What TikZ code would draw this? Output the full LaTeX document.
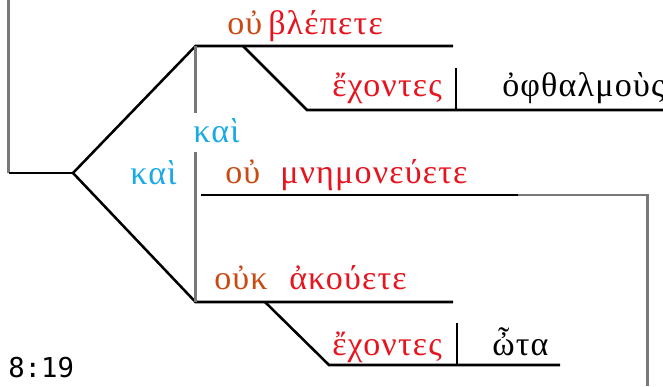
\documentclass[tikz,border=0pt]{standalone}
\usepackage{fontspec}
\setmainfont{Liberation Serif}[LetterSpace=3.5]
\newfontfamily\monofont{DejaVu Sans Mono}
\definecolor{neg}{RGB}{200,75,20}
\definecolor{verb}{RGB}{230,20,30}
\definecolor{conj}{RGB}{25,170,230}
\definecolor{gline}{RGB}{120,120,120}
\begin{document}
\begin{tikzpicture}[x=0.75pt,y=-0.75pt,
  bl/.style={black,line width=1.9pt},
  gl/.style={gline,line width=1.9pt},
  gk/.style={font=\fontsize{25.5}{28}\selectfont,inner sep=0pt,anchor=base west},
  ref/.style={font=\monofont\fontsize{20.5}{24}\selectfont,inner sep=0pt,anchor=base west}]
\useasboundingbox (0,0) rectangle (663,386);
% coordinates
\coordinate (g0) at (8.5,0);
\coordinate (g1) at (8.5,173);
\coordinate (j) at (73,173);
\coordinate (t0) at (195.5,46);
\coordinate (t1) at (453,46);
\coordinate (c0) at (195.5,113);
\coordinate (c1) at (195.5,152);
\coordinate (d0) at (243,46);
\coordinate (d1) at (307,110);
\coordinate (d2) at (663,110);
\coordinate (v0) at (456,68);
\coordinate (v1) at (456,110);
\coordinate (b0) at (195.5,302);
\coordinate (b1) at (453,302);
\coordinate (e0) at (265,302);
\coordinate (e1) at (329,365);
\coordinate (e2) at (560,365);
\coordinate (w0) at (457,323);
\coordinate (w1) at (457,365);
\coordinate (m0) at (201,195);
\coordinate (m1) at (518,195);
\coordinate (m2) at (647.5,195);
\coordinate (m3) at (647.5,386);
% lines
\draw[gl] (g0) -- (g1);
\draw[bl] (g1) -- (j);
\draw[bl] (j) -- (t0) -- (t1);
\draw[bl] (j) -- (b0) -- (b1);
\draw[gl] (t0) -- (c0);
\draw[gl] (c1) -- (b0);
\draw[bl] (d0) -- (d1) -- (d2);
\draw[bl] (v0) -- (v1);
\draw[bl] (e0) -- (e1) -- (e2);
\draw[bl] (w0) -- (w1);
\draw[bl] (m0) -- (m1);
\draw[gl] (m1) -- (m2) -- (m3);
% texts
\node[gk,text=neg] (n1) at (227,34) {οὐ};
\node[gk,text=verb] (v1t) at (268,34) {βλέπετε};
\node[gk,text=verb] (p1) at (332,96) {ἔχοντες};
\node[gk] (o1) at (502,96) {ὀφθαλμοὺς};
\node[gk,text=conj] (k1) at (193,142) {καὶ};
\node[gk,text=conj] (k2) at (130,184) {καὶ};
\node[gk,text=neg] (n2) at (225,183) {οὐ};
\node[gk,text=verb] (v2) at (280,183) {μνημονεύετε};
\node[gk,text=neg] (n3) at (214,289) {οὐκ};
\node[gk,text=verb] (v3) at (289,289) {ἀκούετε};
\node[gk,text=verb] (p2) at (332,355) {ἔχοντες};
\node[gk] (o2) at (492,355) {ὦτα};
\node[ref] (r) at (8,377) {8:19};
\end{tikzpicture}
\end{document}
